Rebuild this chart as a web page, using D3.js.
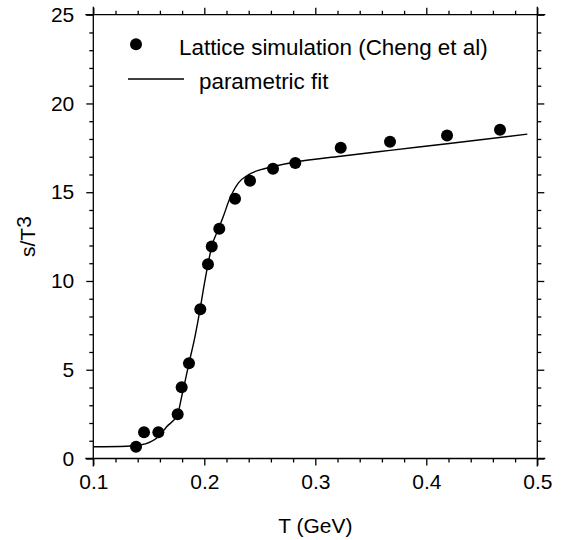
<!DOCTYPE html>
<html>
<head>
<meta charset="utf-8">
<script src="https://cdn.jsdelivr.net/npm/d3@7"></script>
<style>
  body { margin: 0; background: #fff; }
  text { font-family: "Liberation Sans", Arial, sans-serif; fill: #000; }
</style>
</head>
<body>
<div id="chart"></div>
<script>
// Lattice points (T in GeV, s/T^3)
const latticeT = [0.1385, 0.1457, 0.1586, 0.1760, 0.1796, 0.1862, 0.1964, 0.2033, 0.2067,
  0.2135, 0.2277, 0.2412, 0.2619, 0.2820, 0.3229, 0.3673, 0.4187, 0.4664];
const latticeS = [0.665, 1.48, 1.48, 2.49, 4.01, 5.37, 8.41, 10.94, 11.94,
  12.94, 14.63, 15.64, 16.32, 16.64, 17.50, 17.84, 18.20, 18.52];

// parametric fit
const fitT = [0.100, 0.130, 0.1421, 0.1586, 0.1661, 0.1760, 0.1796, 0.1862, 0.1916, 0.1961,
  0.1991, 0.2033, 0.2067, 0.2125, 0.2171, 0.2225, 0.2306, 0.2396, 0.2502, 0.2622,
  0.2820, 0.3228, 0.3673, 0.4187, 0.491];
const fitS = [0.66, 0.69, 0.76, 1.23, 1.79, 2.51, 3.48, 5.37, 6.87, 8.37,
  9.5, 10.94, 11.94, 12.9, 13.63, 14.57, 15.51, 15.98, 16.26, 16.45,
  16.70, 17.03, 17.36, 17.73, 18.27];

const xTicks = [0.1, 0.2, 0.3, 0.4, 0.5];
const yTicks = [0, 5, 10, 15, 20, 25];
const legendLabels = ["Lattice simulation (Cheng et al)", "parametric fit"];

const width = 567, height = 540;
const margin = {top: 14.7, right: 29.7, bottom: 81.5, left: 93.3};
const iw = width - margin.left - margin.right;
const ih = height - margin.top - margin.bottom;

const svg = d3.select("#chart").append("svg")
  .attr("width", width)
  .attr("height", height);

const g = svg.append("g")
  .attr("transform", `translate(${margin.left},${margin.top})`);

const x = d3.scaleLinear().domain([0.1, 0.5]).range([0, iw]);
const y = d3.scaleLinear().domain([0, 25]).range([ih, 0]);

const xMinor = d3.range(0.1, 0.5001, 0.02).filter(v => Math.abs(v * 10 - Math.round(v * 10)) > 1e-6);
const yMinor = d3.range(0, 25.001, 1).filter(v => v % 5 !== 0);

// frame lines, slightly overshooting the corners
const over = 8;
const frame = [
  [x(0.1) - over, y(0), x(0.5) + over, y(0)],
  [x(0.1) - over, y(25), x(0.5) + over, y(25)],
  [x(0.1), y(25) - over, x(0.1), y(0) + over],
  [x(0.5), y(25) - over, x(0.5), y(0) + over]
];
g.selectAll("line.frame")
  .data(frame)
  .enter()
  .append("line")
  .attr("class", "frame")
  .attr("x1", d => d[0]).attr("y1", d => d[1])
  .attr("x2", d => d[2]).attr("y2", d => d[3])
  .attr("stroke", "#000")
  .attr("stroke-width", 1.3);

// ticks on all four sides (outward)
function ticks(axisFn, values, size, transform, labels) {
  const a = axisFn.tickValues(values).tickSize(size).tickSizeOuter(0);
  if (labels) a.tickFormat(d3.format(labels)); else a.tickFormat("");
  const ag = g.append("g").attr("transform", transform).call(a);
  ag.select(".domain").remove();
  ag.selectAll("line").attr("stroke", "#000").attr("stroke-width", 1.3);
  return ag;
}

const xb = ticks(d3.axisBottom(x), xTicks, 7, `translate(0,${ih})`, ".1f");
ticks(d3.axisBottom(x), xMinor, 4, `translate(0,${ih})`);
ticks(d3.axisTop(x), xTicks, 7, "translate(0,0)");
ticks(d3.axisTop(x), xMinor, 4, "translate(0,0)");
const yl = ticks(d3.axisLeft(y), yTicks, 7, "translate(0,0)", "d");
ticks(d3.axisLeft(y), yMinor, 4, "translate(0,0)");
ticks(d3.axisRight(y), yTicks, 7, `translate(${iw},0)`);
ticks(d3.axisRight(y), yMinor, 4, `translate(${iw},0)`);

xb.selectAll("text")
  .attr("font-size", 21)
  .attr("font-family", "Liberation Sans, Arial, sans-serif")
  .attr("y", 16);
yl.selectAll("text")
  .attr("font-size", 21)
  .attr("font-family", "Liberation Sans, Arial, sans-serif")
  .attr("x", -19);

// axis titles
svg.append("text")
  .attr("x", margin.left + x(0.3))
  .attr("y", 533)
  .attr("text-anchor", "middle")
  .attr("font-size", 21)
  .text("T (GeV)");

const yt = svg.append("text")
  .attr("transform", `translate(35,${margin.top + y(12.5)}) rotate(-90)`)
  .attr("text-anchor", "middle")
  .attr("font-size", 21);
yt.append("tspan").text("s/T");
yt.append("tspan").attr("dy", -4).text("3");

// fit curve
const line = d3.line()
  .x(d => x(d[0]))
  .y(d => y(d[1]))
  .curve(d3.curveMonotoneX);

g.append("path")
  .datum(d3.zip(fitT, fitS))
  .attr("fill", "none")
  .attr("stroke", "#000")
  .attr("stroke-width", 1.4)
  .attr("d", line);

// lattice dots
g.selectAll("circle.pt")
  .data(d3.zip(latticeT, latticeS))
  .enter()
  .append("circle")
  .attr("class", "pt")
  .attr("cx", d => x(d[0]))
  .attr("cy", d => y(d[1]))
  .attr("r", 6)
  .attr("fill", "#000");

// legend
const leg = svg.append("g");
leg.append("circle").attr("cx", 136).attr("cy", 44.3).attr("r", 6).attr("fill", "#000");
leg.append("text").attr("x", 179).attr("y", 55).attr("font-size", 22.4).text(legendLabels[0]);
leg.append("line")
  .attr("x1", 128).attr("x2", 184).attr("y1", 79).attr("y2", 79)
  .attr("stroke", "#000").attr("stroke-width", 1.3);
leg.append("text").attr("x", 199).attr("y", 89).attr("font-size", 22.4).text(legendLabels[1]);
</script>
</body>
</html>
